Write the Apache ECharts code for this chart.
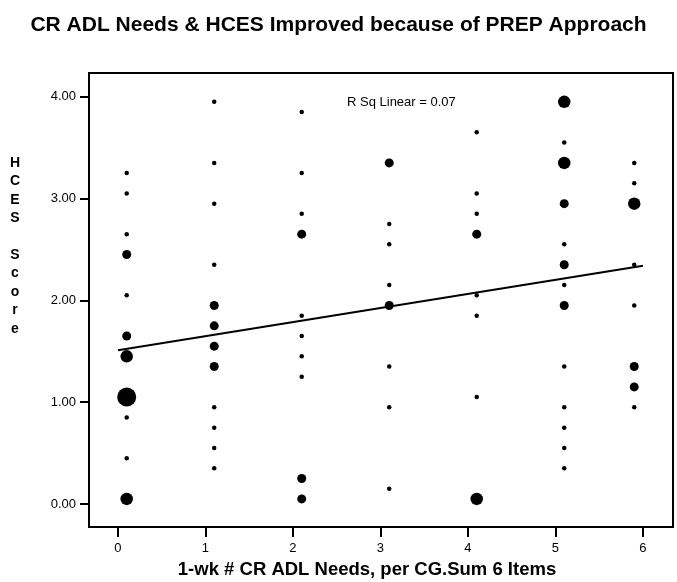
<!DOCTYPE html>
<html>
<head>
<meta charset="utf-8">
<script src="https://cdn.jsdelivr.net/npm/echarts@6/dist/echarts.min.js"></script>
<style>
  html, body { margin: 0; padding: 0; background: #fff; }
  #chart { width: 677px; height: 582px; }
</style>
</head>
<body>
<div id="chart"></div>
<script>
// Needs count (x position of each column of points)
const needsColumns = [0.1, 1.1, 2.1, 3.1, 4.1, 5.1, 5.9];

// HCES score values in each column, with the number of caregivers at each value
const hcesByColumn = [
  [3.25, 3.05, 2.65, 2.45, 2.05, 1.65, 1.45, 1.05, 0.85, 0.45, 0.05],
  [3.95, 3.35, 2.95, 2.35, 1.95, 1.75, 1.55, 1.35, 0.95, 0.75, 0.55, 0.35],
  [3.85, 3.25, 2.85, 2.65, 1.85, 1.65, 1.45, 1.25, 0.25, 0.05],
  [3.35, 2.75, 2.55, 2.15, 1.95, 1.35, 0.95, 0.15],
  [3.65, 3.05, 2.85, 2.65, 2.05, 1.85, 1.05, 0.05],
  [3.95, 3.55, 3.35, 2.95, 2.55, 2.35, 2.15, 1.95, 1.35, 0.95, 0.75, 0.55, 0.35],
  [3.35, 3.15, 2.95, 2.35, 1.95, 1.35, 1.15, 0.95]
];
const countsByColumn = [
  [1, 1, 1, 2, 1, 2, 3, 6, 1, 1, 3],
  [1, 1, 1, 1, 2, 2, 2, 2, 1, 1, 1, 1],
  [1, 1, 1, 2, 1, 1, 1, 1, 2, 2],
  [2, 1, 1, 1, 2, 1, 1, 1],
  [1, 1, 1, 2, 1, 1, 1, 3],
  [3, 1, 3, 2, 1, 2, 1, 2, 1, 1, 1, 1, 1],
  [1, 1, 3, 1, 1, 2, 2, 1]
];

// Linear fit line end points
const fitX = [0, 6];
const fitY = [1.51, 2.34];
const rSquared = 0.07;

const xTicks = [0, 1, 2, 3, 4, 5, 6];
const yTicks = [0, 1, 2, 3, 4];

// marker diameter by count of overlapping cases
function markerSize(n) {
  const table = {1: 4.5, 2: 9, 3: 12.5, 4: 14, 5: 16.5, 6: 19};
  return table[n] || 19;
}

const points = [];
needsColumns.forEach((x, i) => {
  hcesByColumn[i].forEach((y, j) => points.push([x, y, countsByColumn[i][j]]));
});

const FONT = '"Liberation Sans", Arial, Helvetica, sans-serif';

const chart = echarts.init(document.getElementById('chart'), null, { renderer: 'canvas' });
chart.setOption({
  backgroundColor: '#ffffff',
  animation: false,
  title: {
    text: 'CR ADL Needs & HCES Improved because of PREP Approach',
    left: 'center',
    top: 10,
    textStyle: { fontFamily: FONT, fontSize: 21, fontWeight: 'bold', color: '#000' }
  },
  grid: {
    left: 89, top: 73, width: 584, height: 454,
    outerBoundsMode: 'none',
    containLabel: false,
    show: true, borderColor: '#000', borderWidth: 2, backgroundColor: 'transparent'
  },
  xAxis: {
    type: 'value',
    min: -0.331, max: 6.343,
    splitLine: { show: false },
    axisLine: { show: true, onZero: false, lineStyle: { color: '#000', width: 2 } },
    axisTick: { show: true, length: 10, customValues: xTicks, lineStyle: { color: '#000', width: 2 } },
    axisLabel: { customValues: xTicks, margin: 15, color: '#000', fontFamily: FONT, fontSize: 13 }
  },
  yAxis: {
    type: 'value',
    min: -0.226, max: 4.233,
    splitLine: { show: false },
    axisLine: { show: true, onZero: false, lineStyle: { color: '#000', width: 2 } },
    axisTick: { show: true, length: 9, customValues: yTicks, lineStyle: { color: '#000', width: 2 } },
    axisLabel: {
      customValues: yTicks, margin: 13, color: '#000', fontFamily: FONT, fontSize: 13,
      formatter: v => v.toFixed(2)
    }
  },
  graphic: [
    {
      type: 'text', x: 15, y: 154,
      style: {
        text: 'H\nC\nE\nS\n\nS\nc\no\nr\ne',
        fontFamily: FONT, fontSize: 14, fontWeight: 'bold', fill: '#000',
        lineHeight: 18.4, align: 'center', verticalAlign: 'top'
      }
    },
    {
      type: 'text', x: 367, y: 570,
      style: {
        text: '1-wk # CR ADL Needs, per CG.Sum 6 Items',
        fontFamily: FONT, fontSize: 18.5, fontWeight: 'bold', fill: '#000',
        align: 'center', verticalAlign: 'middle'
      }
    },
    {
      type: 'text', x: 347, y: 102,
      style: {
        text: 'R Sq Linear = ' + rSquared.toFixed(2),
        fontFamily: FONT, fontSize: 13, fill: '#000',
        verticalAlign: 'middle'
      }
    }
  ],
  series: [
    {
      type: 'scatter',
      data: points,
      symbol: 'circle',
      symbolSize: d => markerSize(d[2]),
      itemStyle: { color: '#000', opacity: 1 },
      z: 3
    },
    {
      type: 'line',
      data: fitX.map((x, i) => [x, fitY[i]]),
      showSymbol: false,
      symbol: 'none',
      lineStyle: { color: '#000', width: 2 },
      z: 4
    }
  ]
});
</script>
</body>
</html>
